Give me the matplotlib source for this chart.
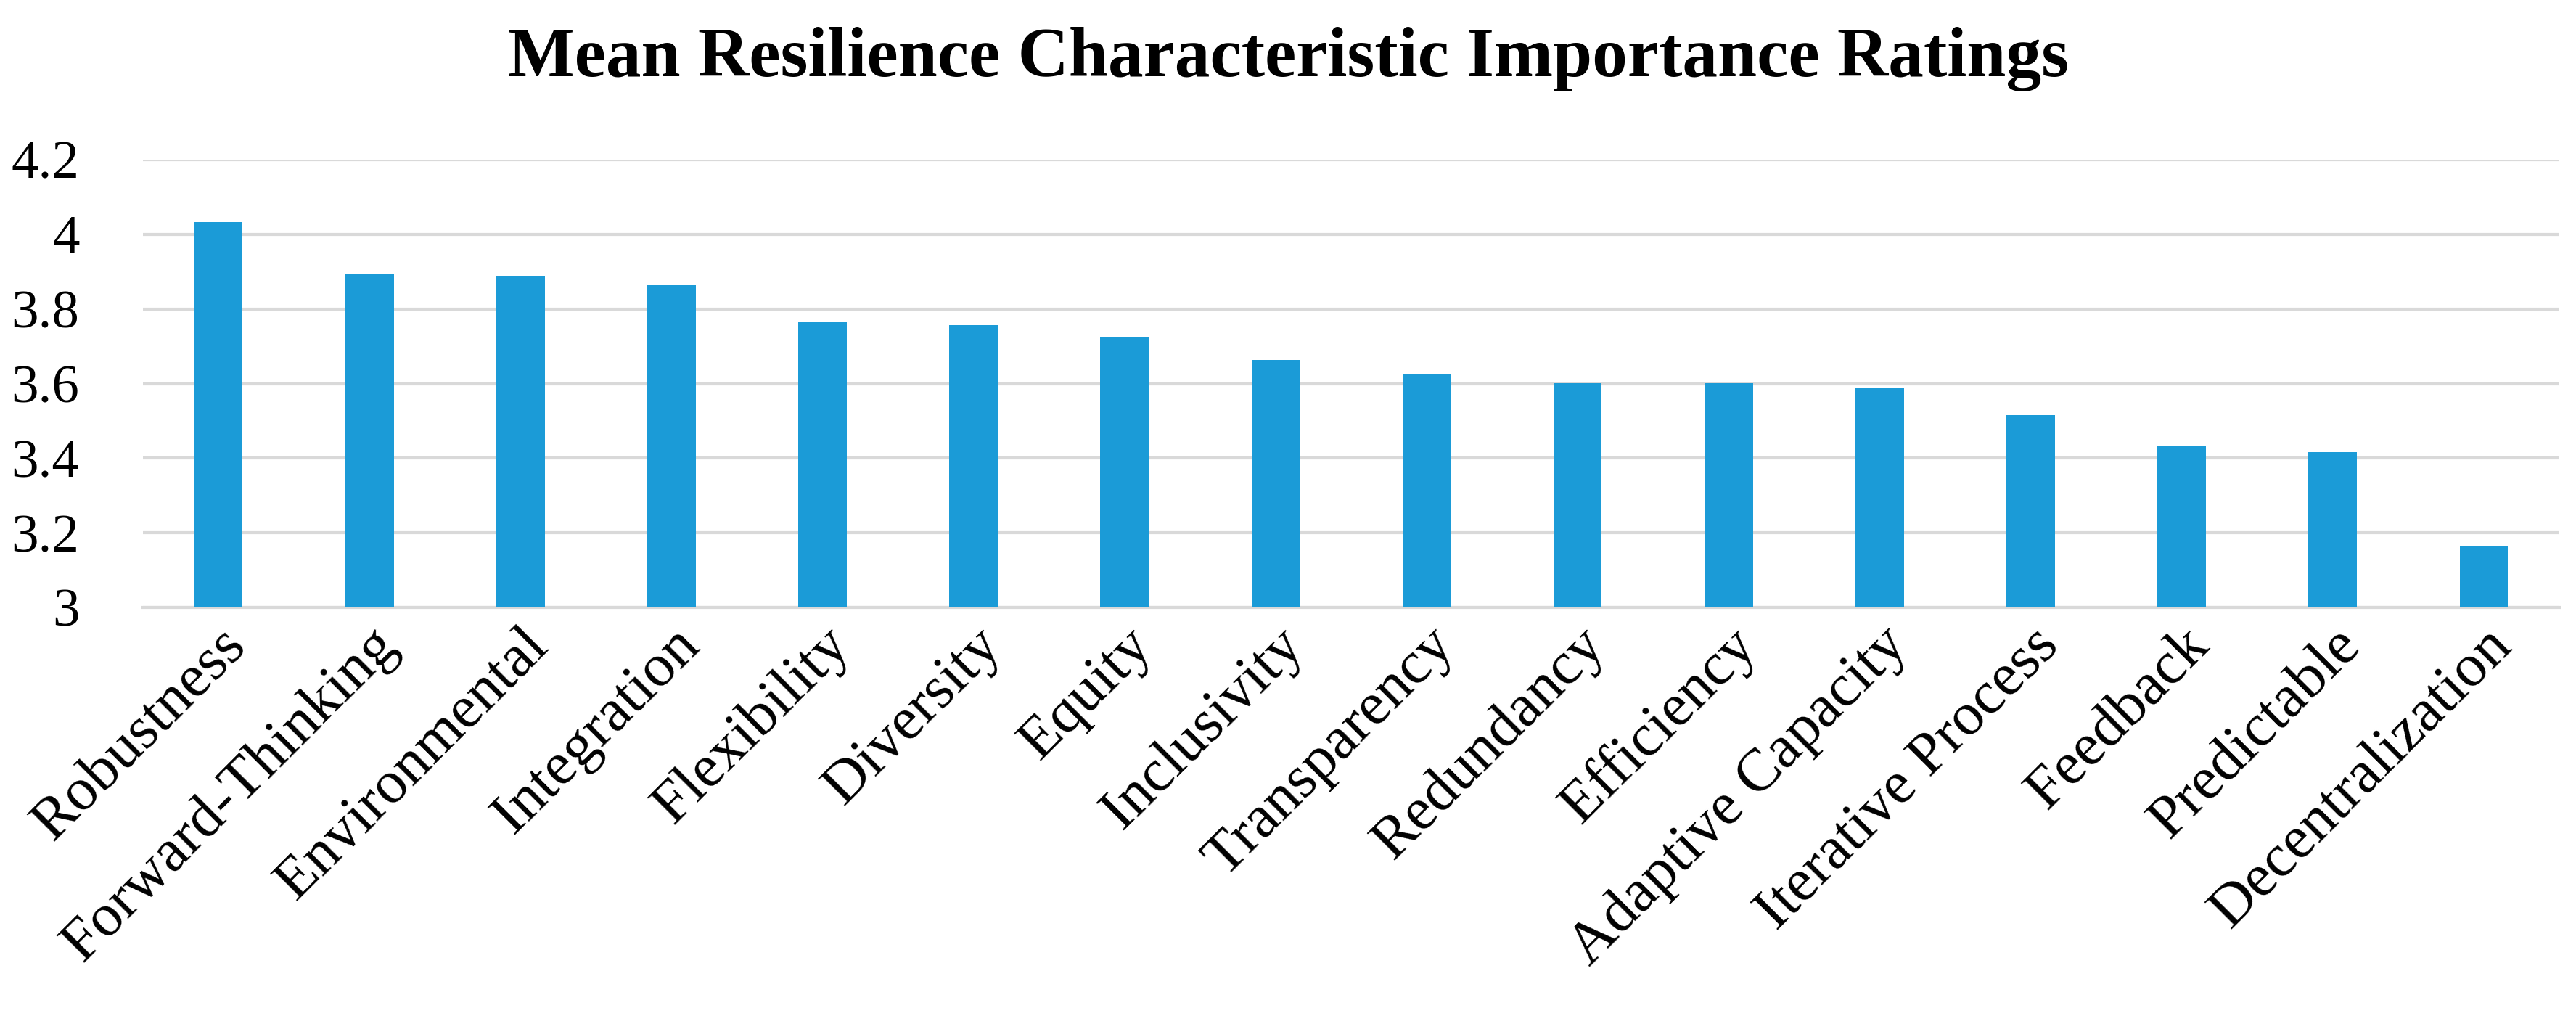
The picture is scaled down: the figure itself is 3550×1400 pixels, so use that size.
import matplotlib
matplotlib.use("Agg")
from matplotlib import pyplot as plt


categories = ['Robustness', 'Forward-Thinking', 'Environmental', 'Integration',
              'Flexibility', 'Diversity', 'Equity', 'Inclusivity', 'Transparency',
              'Redundancy', 'Efficiency', 'Adaptive Capacity', 'Iterative Process',
              'Feedback', 'Predictable', 'Decentralization']
ratings = [4.033, 3.895, 3.887, 3.863, 3.764, 3.757, 3.726, 3.663, 3.624,
           3.601, 3.601, 3.587, 3.516, 3.432, 3.417, 3.163]
yticks = [3, 3.2, 3.4, 3.6, 3.8, 4, 4.2]
ytick_labels = ['3', '3.2', '3.4', '3.6', '3.8', '4', '4.2']

BAR_COLOR = '#1b9bd7'
GRID_COLOR = '#d9d9d9'

plt.rcParams['font.family'] = ['Liberation Serif', 'DejaVu Serif']

fig = plt.figure(figsize=(35.5, 14), dpi=100)
ax = fig.add_axes([0.0555, 0.402, 0.938, 0.441])

x = list(range(len(categories)))
ax.bar(x, ratings, width=0.32, color=BAR_COLOR, zorder=3)

ax.set_xlim(-0.5, len(categories) - 0.5)
ax.set_ylim(3, 4.2)
ax.set_yticks(yticks)
ax.set_yticklabels(ytick_labels)
ax.yaxis.grid(True, color=GRID_COLOR, linewidth=3, zorder=0)

ax.set_xticks(x)
ax.set_xticklabels(categories, rotation=45, ha='right', rotation_mode='anchor',
                   fontsize=60)
ax.tick_params(axis='x', length=0, pad=10)
ax.tick_params(axis='y', length=0, pad=63, labelsize=54)

for side in ['top', 'right', 'left']:
    ax.spines[side].set_visible(False)
ax.spines['bottom'].set_color(GRID_COLOR)
ax.spines['bottom'].set_linewidth(3)

fig.text(0.5, 0.925, 'Mean Resilience Characteristic Importance Ratings',
         ha='center', va='baseline', fontsize=70, fontweight='bold')

fig.savefig('out.png', dpi=100)
plt.close()
